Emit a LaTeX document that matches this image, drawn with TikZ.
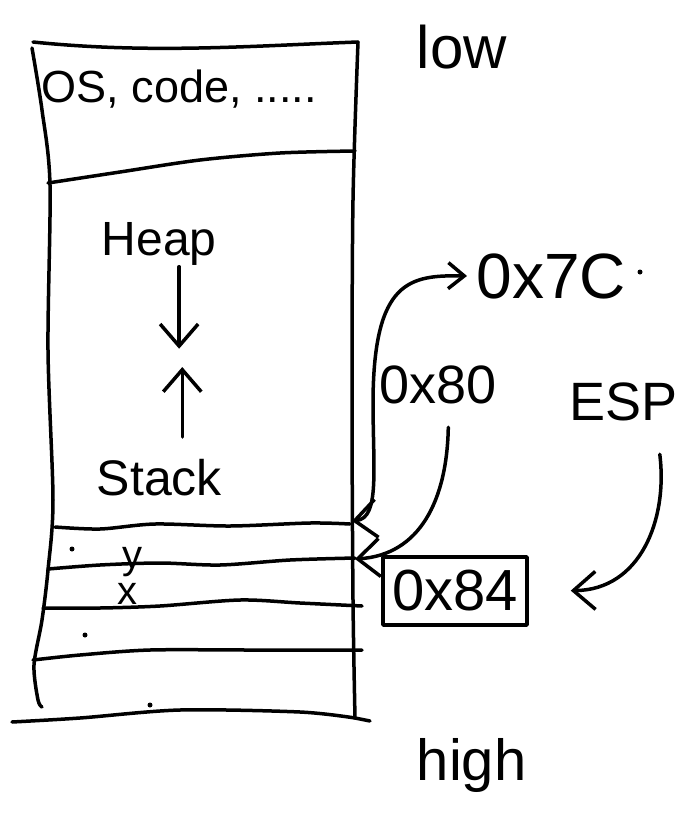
\documentclass[tikz,border=0pt]{standalone}
\usepackage{fontspec}
\setmainfont{Liberation Sans}
\usetikzlibrary{arrows.meta}

\tikzset{
  hand/.style={font=\fontsize{#1}{#1}\selectfont, inner sep=0pt},
  barb/.style={-{Straight Barb[length=22pt,width=38pt]}},
  dbarb/.style={{Straight Barb[length=22pt,width=38pt]}-{Straight Barb[length=16pt,width=26pt]}},
}

\begin{document}
\begin{tikzpicture}[x=1pt,y=-1pt,line width=3.5pt,line cap=round,line join=round]
\useasboundingbox (0,0) rectangle (677,814);

% memory column
\draw (33,42) .. controls (150,54) and (250,46) .. (358,42);
\draw plot[smooth] coordinates {(32,48) (42,110) (50,185) (48,350) (53,500) (48,570) (42,620) (34,665) (38,700) (42,707)};
\draw plot[smooth] coordinates {(358,42) (353,200) (352,400) (353,600) (355,718)};
\draw plot[smooth] coordinates {(48,183) (120,172) (200,160) (280,153) (355,151)};
\draw plot[smooth] coordinates {(55,527) (100,529) (155,524) (230,526) (310,523) (350,524)};
\draw plot[smooth] coordinates {(48,569) (100,565) (160,563) (220,565) (290,560) (355,558)};
\draw plot[smooth] coordinates {(43,608) (100,608) (160,606) (240,600) (300,603) (362,606)};
\draw plot[smooth] coordinates {(33,660) (80,655) (150,650) (250,650) (362,650)};
\draw plot[smooth] coordinates {(12,722) (80,718) (180,710) (300,712) (355,718)};
\draw (355,718) -- (370,721);

% stray dots
\foreach \p in {(72,549),(85,635),(150,705),(640,272)}
  \fill \p circle (2.5pt);

% labels
\node[hand=60,anchor=base west] (low) at (415,68) {low};
\node[hand=45,anchor=base west] (os) at (40,102) {OS, code, .....};
\node[hand=48,anchor=base west] (heap) at (100,255) {Heap};
\node[hand=50,anchor=base west] (stack) at (95,495) {Stack};
\node[hand=40,anchor=base] (vary) at (132,568) {y};
\node[hand=40,anchor=base] (varx) at (127,604) {x};
\node[hand=64,anchor=base west] (addr7C) at (475,298) {0x7C};
\node[hand=54,anchor=base west] (addr80) at (378,403) {0x80};
\node[hand=54,anchor=base west] (esp) at (568,420) {ESP};
\node[hand=58,anchor=base west] (high) at (415,780) {high};
\node[hand=58,draw,minimum width=144pt,minimum height=68pt] (addr84) at (455,591) {0x84};

% stack slots on the right wall
\coordinate (slot1) at (352,521);
\coordinate (slot2) at (355,559);

% connectors
\draw[barb] ([xshift=20pt]heap.south) -- ++(0,82);
\draw[barb] ([xshift=23pt,yshift=20pt]stack.north) -- ++(0,-70);
\draw[dbarb] (slot1) .. controls (380,518) and (373,470) .. (373,400)
  .. controls (374,280) and (410,275) .. ([xshift=-8pt]addr7C.west);
\draw[barb] ([xshift=10pt,yshift=-22pt]addr80.south) .. controls (447,500) and (420,555) .. (slot2);
\draw[barb,shorten >=42pt] ([xshift=36pt,yshift=-32pt]esp.south) .. controls (668,520) and (640,590) .. (addr84.east);
\end{tikzpicture}
\end{document}
